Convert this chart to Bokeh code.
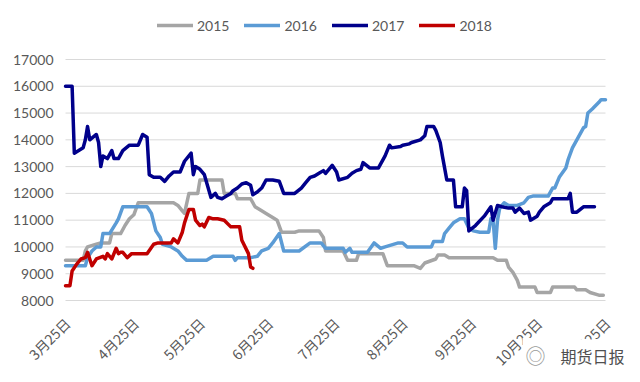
import math
from bokeh.plotting import figure
from bokeh.models import Range1d, Legend, LegendItem, Label, ColumnDataSource
from bokeh.core.properties import value
from bokeh.embed import file_html
from bokeh.resources import INLINE

# ---- data (x = days after 3月25日) ----
tick_days = [0, 31, 61, 92, 122, 153, 184, 214, 245]
tick_labels = ["3月25日", "4月25日", "5月25日", "6月25日", "7月25日",
               "8月25日", "9月25日", "10月25日", "11月25日"]
y_ticks = [8000, 9000, 10000, 11000, 12000, 13000, 14000, 15000, 16000, 17000]

d2015 = [0, 8, 9, 10, 14, 16, 20, 21, 25, 27, 29, 31, 33, 49, 51, 53, 54, 56, 60, 61,
         71, 72, 77, 78, 84, 86, 89, 91, 94, 96, 98, 104, 106, 115, 117, 118, 126, 128,
         132, 133, 144, 146, 158, 161, 163, 168, 169, 172, 174, 194, 196, 200, 201, 203,
         205, 206, 213, 214, 220, 221, 231, 232, 236, 238, 242, 244]
v2015 = [9500, 9500, 9850, 10000, 10100, 10150, 10150, 10500, 10500, 10800, 11050, 11200,
         11650, 11650, 11550, 11350, 11250, 12000, 12000, 12500, 12500, 12000, 12000, 11800,
         11800, 11500, 11350, 11250, 11100, 11000, 10550, 10550, 10600, 10600, 10350, 9850,
         9850, 9500, 9500, 9750, 9750, 9300, 9300, 9200, 9400, 9550, 9700, 9700, 9600, 9600,
         9500, 9500, 9250, 9050, 8750, 8500, 8500, 8300, 8300, 8500, 8500, 8400, 8400, 8300,
         8200, 8200]

d2016 = [0, 9, 10, 12, 14, 16, 17, 20, 23, 24, 26, 37, 39, 41, 43, 44, 48, 51, 53, 55,
         64, 67, 76, 77, 78, 84, 87, 89, 92, 94, 97, 99, 106, 111, 116, 118, 126, 127, 129,
         130, 137, 140, 143, 145, 151, 153, 155, 166, 167, 171, 172, 174, 176, 179, 181, 183,
         185, 188, 192, 193, 194, 195, 196, 197, 199, 201, 205, 208, 210, 212, 219, 221, 222,
         224, 227, 228, 230, 233, 235, 236, 237, 239, 242, 243, 245]
v2016 = [9300, 9300, 9600, 9850, 10000, 10000, 10500, 10500, 10900, 11050, 11500, 11500,
         11250, 10600, 10350, 10100, 10000, 9850, 9650, 9500, 9500, 9650, 9650, 9500, 9600,
         9600, 9650, 9850, 9950, 10150, 10500, 9850, 9850, 10150, 10150, 9950, 9950, 9800,
         9950, 9800, 9800, 10150, 9950, 10000, 10150, 10150, 10000, 10000, 10200, 10200,
         10500, 10700, 10900, 11050, 11050, 10700, 10600, 10550, 10550, 11050, 11000, 9950,
         11000, 11450, 11650, 11550, 11550, 11650, 11850, 11900, 11900, 12200, 12200, 12600,
         12950, 13250, 13700, 14150, 14450, 14500, 15000, 15150, 15400, 15500, 15500]

d2017 = [0, 3, 4, 8, 9, 10, 11, 14, 15, 16, 17, 19, 21, 22, 24, 26, 29, 33, 35, 37, 38,
         40, 43, 45, 47, 49, 52, 54, 57, 58, 59, 61, 63, 66, 68, 69, 71, 73, 75, 76, 78, 80,
         82, 84, 85, 87, 89, 91, 94, 97, 99, 104, 107, 109, 111, 113, 115, 117, 118, 121,
         123, 124, 128, 130, 132, 134, 135, 138, 142, 145, 147, 148, 152, 153, 156, 157, 161,
         163, 164, 167, 168, 170, 171, 173, 176, 177, 180, 181, 182, 183, 186, 190, 193, 194,
         196, 198, 201, 203, 204, 206, 208, 210, 211, 214, 215, 217, 220, 221, 228, 229, 230,
         232, 235, 240]
v2017 = [16000, 16000, 13500, 13700, 14000, 14500, 14000, 14200, 13900, 13000, 13400, 13300,
         13600, 13300, 13300, 13600, 13800, 13800, 14200, 14100, 12700, 12600, 12600, 12450,
         12650, 12800, 12800, 13200, 13500, 12700, 13000, 12900, 12700, 11850, 12000, 11850,
         11800, 11900, 12000, 12100, 12200, 12350, 12400, 12300, 11950, 12050, 12200, 12500,
         12500, 12450, 12000, 12000, 12200, 12400, 12600, 12650, 12750, 12850, 12750, 13050,
         12800, 12500, 12600, 12750, 12850, 12900, 13150, 12950, 12950, 13400, 13800, 13700,
         13750, 13800, 13850, 13900, 14000, 14150, 14500, 14500, 14350, 13900, 13400, 12500,
         12500, 11500, 11500, 12200, 12100, 10600, 10800, 11150, 11500, 11000, 11550, 11500,
         11450, 11450, 11300, 11450, 11250, 11300, 11000, 11150, 11300, 11500, 11650, 11800,
         11800, 12000, 11300, 11300, 11500, 11500]

d2018 = [0, 2, 3, 5, 7, 9, 10, 12, 14, 17, 18, 19, 21, 23, 24, 25, 26, 28, 30, 37, 40, 42,
         48, 49, 51, 53, 54, 56, 58, 59, 61, 62, 63, 65, 67, 69, 72, 75, 79, 80, 83, 84, 85]
v2018 = [8550, 8550, 9100, 9350, 9550, 9600, 9800, 9300, 9550, 9650, 9550, 9750, 9550, 9950,
         9750, 9800, 9800, 9600, 9750, 9750, 10100, 10150, 10150, 10300, 10150, 10550, 10900,
         11400, 11400, 11000, 10800, 10850, 10750, 11100, 11050, 11050, 11000, 10750, 10750,
         10250, 9750, 9250, 9200]

series = [("2015", d2015, v2015, "#A5A5A5"),
          ("2016", d2016, v2016, "#5B9BD5"),
          ("2017", d2017, v2017, "#00008B"),
          ("2018", d2018, v2018, "#C00000")]

# ---- layout: the plotting frame covers the whole canvas; the data area is
#      x 65..605 px and y 59..300 px, everything else (labels, legend) sits around it
W, H = 640, 382
AX_L, AX_R, AX_T, AX_B = 65, 605, 59, 300
x0, x1 = tick_days[0], tick_days[-1]
y0, y1 = y_ticks[0], y_ticks[-1]
ppx = (AX_R - AX_L) / (x1 - x0)
ppy = (AX_B - AX_T) / (y1 - y0)

p = figure(width=W, height=H, output_backend="svg", toolbar_location=None,
           x_range=Range1d(x0 - AX_L / ppx, x1 + (W - AX_R) / ppx),
           y_range=Range1d(y0 - (H - AX_B) / ppy, y1 + AX_T / ppy),
           min_border=0)
p.outline_line_color = None
p.background_fill_color = "white"
p.border_fill_color = "white"
p.xaxis.visible = False
p.yaxis.visible = False
p.grid.visible = False

# horizontal grid lines
p.segment(x0=[x0] * len(y_ticks), x1=[x1] * len(y_ticks), y0=y_ticks, y1=y_ticks,
          line_color="#D9D9D9", line_width=1)

# y tick labels
p.text(x=[x0] * len(y_ticks), y=y_ticks, text=[str(v) for v in y_ticks],
       text_align="right", text_baseline="middle", x_offset=-12,
       text_font=value("Lato"), text_font_size="14px", text_color="#595959")

# rotated date labels under the bottom grid line
lab_src = ColumnDataSource(dict(x=tick_days, y=[y0] * len(tick_days), t=tick_labels))
p.text(x="x", y="y", text="t", source=lab_src, angle=math.pi / 4,
       text_align="right", text_baseline="middle", x_offset=2, y_offset=20,
       text_font=value("Noto Sans CJK SC"), text_font_size="14px", text_color="#595959")

items = []
for name, xs, ys, col in series:
    r = p.line(xs, ys, line_color=col, line_width=3.5, line_join="round", line_cap="round")
    items.append(LegendItem(label=name, renderers=[r]))

legend = Legend(items=items, orientation="horizontal", location=(157, 347),
                glyph_width=36, glyph_height=20, label_standoff=4, spacing=15,
                padding=0, margin=0, border_line_color=None, background_fill_alpha=0,
                label_text_font="Lato", label_text_font_size="14px",
                label_text_color="#595959", label_text_baseline="middle")
p.add_layout(legend, "center")

# watermark (icon + text on a white patch over the last date label)
wm_y = y0 - (355 - AX_B) / ppy
icon = Label(x=x0 + (522 - AX_L) / ppx, y=wm_y, text="◎", text_font="Noto Sans CJK SC",
             text_font_size="20px", text_color="#9A9A9A", text_align="left",
             text_baseline="middle", background_fill_color="white",
             background_fill_alpha=1.0, padding=3)
wm = Label(x=x0 + (556 - AX_L) / ppx, y=wm_y, text="期货日报",
           text_font="Noto Sans CJK SC", text_font_size="16px", text_color="#505050",
           text_align="left", text_baseline="middle", background_fill_color="white",
           background_fill_alpha=1.0, padding=4)
p.add_layout(icon)
p.add_layout(wm)

with open("out.html", "w") as f:
    f.write(file_html(p, INLINE))
